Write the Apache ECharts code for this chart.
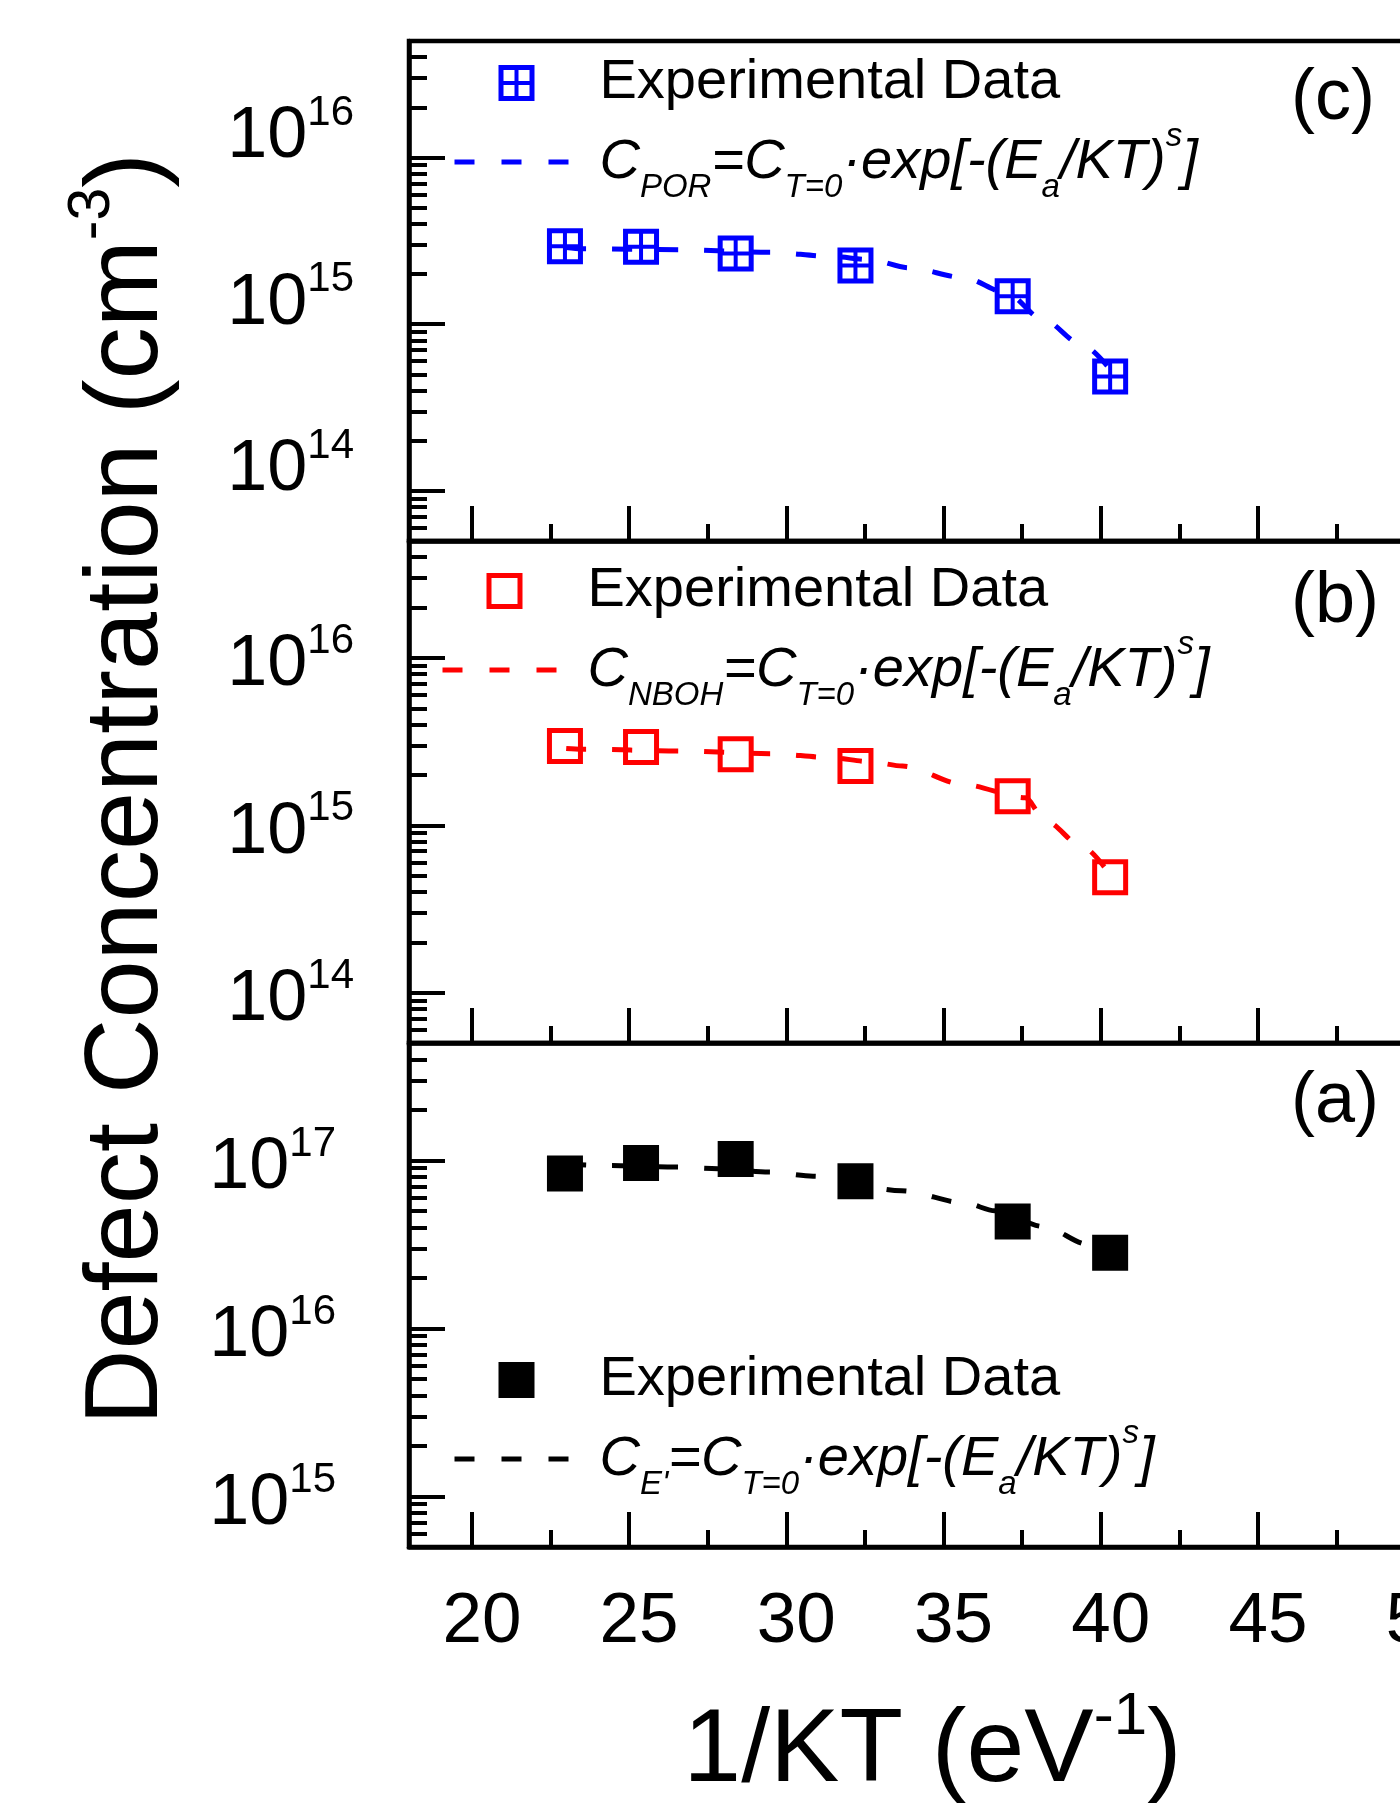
<!DOCTYPE html>
<html>
<head>
<meta charset="utf-8">
<script src="https://cdn.jsdelivr.net/npm/echarts@6/dist/echarts.min.js"></script>
<style>
  html, body { margin: 0; padding: 0; background: #fff; overflow: hidden; }
  #chart { width: 1600px; height: 1860px; }
</style>
</head>
<body>
<div id="chart"></div>
<script>
// 1/KT positions of the measured points (same in all panels)
const xExp = [22.96, 25.38, 28.39, 32.2, 37.2, 40.3];

// (c) POR, (b) NBOH, (a) E' measured concentrations, cm^-3
const porExp = [2.93e15, 2.91e15, 2.65e15, 2.25e15, 1.47e15, 4.86e14];
const nbohExp = [2.98e15, 2.94e15, 2.66e15, 2.26e15, 1.49e15, 4.9e14];
const eExp = [8.36e16, 9.65e16, 1.02e17, 7.52e16, 4.33e16, 2.82e16];

// fitted curves
const porFitX = [23.0, 23.5, 26.6, 29.5, 31.4, 32.65, 33.9, 35.65, 37.0, 38.15, 39.4, 40.25];
const porFitY = [2.88e15, 2.83e15, 2.8e15, 2.7e15, 2.55e15, 2.44e15, 2.18e15, 1.9e15, 1.54e15, 1.07e15, 7.56e14, 5.5e14];
const nbohFitX = [23.0, 23.5, 26.6, 29.5, 31.4, 32.65, 33.7, 35.65, 37.6, 38.25, 39.4, 40.3];
const nbohFitY = [2.88e15, 2.85e15, 2.78e15, 2.68e15, 2.54e15, 2.4e15, 2.26e15, 1.75e15, 1.46e15, 1.06e15, 7.5e14, 5.06e14];
const eFitX = [23.0, 24.35, 26.46, 27.82, 29.45, 30.85, 33.67, 35.69, 36.64, 38.19, 39.6, 40.2];
const eFitY = [9.5e16, 9.33e16, 9.13e16, 8.92e16, 8.52e16, 8.06e16, 6.6e16, 5.57e16, 5.01e16, 4.04e16, 3.16e16, 2.92e16];

// tick values
const xMajor = [20, 25, 30, 35, 40, 45, 50];
const xMinor = [22.5, 27.5, 32.5, 37.5, 42.5, 47.5];
const yDecadesLow = [1e14, 1e15, 1e16];
const yDecadesHigh = [1e15, 1e16, 1e17];

const FONT = '"Liberation Sans", Arial, Helvetica, sans-serif';

function minorTicks(lo, hi) {
  // 2..9 x 10^n inside [lo, hi]
  const out = [];
  for (let e = Math.floor(Math.log10(lo)); e <= Math.ceil(Math.log10(hi)); e++) {
    for (let m = 2; m <= 9; m++) {
      const v = m * Math.pow(10, e);
      if (v >= lo && v <= hi) out.push(v);
    }
  }
  return out;
}

function pairs(xs, ys) {
  return xs.map((x, i) => [x, ys[i]]);
}

// marker shapes: hollow square with cross, hollow square, filled square
const symCross = 'path://M0 0H36V36H0Z M5 5V16H16V5Z M20 5V16H31V5Z M5 20V31H16V20Z M20 20V31H31V20Z';
const symOpen = 'path://M0 0H36V36H0Z M5 5V31H31V5Z';
const symFull = 'path://M0 0H36V36H0Z';

const panels = [
  { key: 'c', top: 41, height: 500, min: 5e13, max: 5e16, decades: yDecadesLow,
    color: '#0000ff', sym: symCross, exp: porExp, fitX: porFitX, fitY: porFitY,
    sub: 'POR', labelMargin: 55, labelPad: [0, 0, 41, 0], legendLeft: 452, legendTop: 55 },
  { key: 'b', top: 541, height: 502, min: 5e13, max: 5e16, decades: yDecadesLow,
    color: '#ff0000', sym: symOpen, exp: nbohExp, fitX: nbohFitX, fitY: nbohFitY,
    sub: 'NBOH', labelMargin: 55, labelPad: [15, 0, 0, 0], legendLeft: 440, legendTop: 563 },
  { key: 'a', top: 1043, height: 504, min: 5e14, max: 5e17, decades: yDecadesHigh,
    color: '#000000', sym: symFull, exp: eExp, fitX: eFitX, fitY: eFitY,
    sub: "E'", labelMargin: 73, labelPad: [15, 0, 0, 0], legendLeft: 452, legendTop: 1352 }
];

const X_MIN = 18, X_MAX = 51.3;
const axisLineStyle = { color: '#000', width: 4.5 };
const tickLineStyle = { color: '#000', width: 4 };

const grids = [], xAxes = [], yAxes = [], series = [], legends = [];
const legendText = {};

panels.forEach((p, k) => {
  const last = k === panels.length - 1;
  grids.push({
    left: 409, top: p.top, width: 1047, height: p.height,
    show: true, borderColor: '#000', borderWidth: 4.5,
    backgroundColor: 'transparent', outerBoundsMode: 'none', containLabel: false
  });

  xAxes.push({
    gridIndex: k, type: 'value', min: X_MIN, max: X_MAX, position: 'bottom',
    axisLine: { show: true, onZero: false, lineStyle: axisLineStyle },
    axisTick: { show: true, inside: true, length: 35, customValues: xMajor, lineStyle: tickLineStyle },
    axisLabel: {
      show: last, customValues: xMajor, color: '#000', fontFamily: FONT, fontSize: 71,
      margin: 40, padding: [0, 0, 0, 20]
    },
    splitLine: { show: false },
    name: last ? '1/KT (eV{sp|-1})' : '',
    nameLocation: 'middle',
    nameGap: 140,
    nameTextStyle: {
      color: '#000', fontFamily: FONT, fontSize: 104, lineHeight: 130,
      rich: { sp: { color: '#000', fontFamily: FONT, fontSize: 60, lineHeight: 44, verticalAlign: 'top' } }
    }
  });
  xAxes.push({
    gridIndex: k, type: 'value', min: X_MIN, max: X_MAX, position: 'bottom',
    axisLine: { show: false, onZero: false },
    axisTick: { show: true, inside: true, length: 17, customValues: xMinor, lineStyle: tickLineStyle },
    axisLabel: { show: false },
    splitLine: { show: false }
  });

  yAxes.push({
    gridIndex: k, type: 'log', logBase: 10, min: p.min, max: p.max, position: 'left',
    axisLine: { show: true, onZero: false, lineStyle: axisLineStyle },
    axisTick: { show: true, inside: true, length: 36, customValues: p.decades, lineStyle: tickLineStyle },
    axisLabel: {
      customValues: p.decades, margin: p.labelMargin, padding: p.labelPad,
      formatter: v => '{m|10}{s|' + Math.round(Math.log10(v)) + '}',
      rich: {
        m: { color: '#000', fontFamily: FONT, fontSize: 72, lineHeight: 90 },
        s: { color: '#000', fontFamily: FONT, fontSize: 42, lineHeight: 36, verticalAlign: 'top' }
      }
    },
    splitLine: { show: false },
    minorTick: { show: false },
    name: k === 1 ? 'Defect Concentration (cm{sp|-3})' : '',
    nameLocation: 'middle',
    nameRotate: 90,
    nameGap: 216,
    nameTextStyle: {
      color: '#000', fontFamily: FONT, fontSize: 104.5, lineHeight: 130,
      padding: [0, 0, 0, 6],
      rich: { sp: { color: '#000', fontFamily: FONT, fontSize: 59, lineHeight: 40, verticalAlign: 'top' } }
    }
  });
  yAxes.push({
    gridIndex: k, type: 'log', logBase: 10, min: p.min, max: p.max, position: 'left',
    axisLine: { show: false, onZero: false },
    axisTick: { show: true, inside: true, length: 18, customValues: minorTicks(p.min, p.max), lineStyle: tickLineStyle },
    axisLabel: { show: false },
    splitLine: { show: false }
  });

  const expName = 'exp_' + p.key, fitName = 'fit_' + p.key;
  legendText[expName] = 'Experimental Data';
  legendText[fitName] = '{i|C}{sb|' + p.sub + '}{i|=C}{sb|T=0}{i|·exp[-(E}{sb|a}{i|/KT)}{sp|s}{i|]}';

  series.push({
    name: expName, type: 'scatter', xAxisIndex: 2 * k, yAxisIndex: 2 * k,
    data: pairs(xExp, p.exp), symbol: p.sym, symbolSize: 36, symbolKeepAspect: true,
    itemStyle: { color: p.color, opacity: 1 }, z: 2
  });
  series.push({
    name: fitName, type: 'line', xAxisIndex: 2 * k, yAxisIndex: 2 * k,
    data: pairs(p.fitX, p.fitY), showSymbol: false, symbol: 'none',
    smooth: 0.3, smoothMonotone: 'x',
    itemStyle: { color: p.color },
    lineStyle: { color: p.color, width: 5, type: [20, 26] }, z: 3
  });

  legends.push({
    orient: 'vertical', left: p.legendLeft, top: p.legendTop, padding: 0,
    itemWidth: 124, itemHeight: 36, itemGap: 9, selectedMode: false,
    data: [
      { name: expName },
      // line only in the key, no marker
      { name: fitName, itemStyle: { color: 'transparent', opacity: 0, borderWidth: 0 } }
    ],
    symbolKeepAspect: true,
    formatter: name => legendText[name],
    lineStyle: { color: p.color, width: 5, type: [20, 27] },
    textStyle: {
      color: '#000', fontFamily: FONT, fontSize: 56, lineHeight: 56, padding: [0, 0, 0, 16],
      rich: {
        i: { color: '#000', fontFamily: FONT, fontSize: 56, fontStyle: 'italic', lineHeight: 84 },
        sb: { color: '#000', fontFamily: FONT, fontSize: 33, fontStyle: 'italic', lineHeight: 32, verticalAlign: 'bottom' },
        sp: { color: '#000', fontFamily: FONT, fontSize: 33, fontStyle: 'italic', lineHeight: 44, verticalAlign: 'top' }
      }
    }
  });
});

// panel tags (c), (b), (a)
const tags = [['(c)', 99], ['(b)', 602], ['(a)', 1102]];
const graphics = tags.map(t => ({
  type: 'text', x: 1291, y: t[1], z: 10,
  style: { text: t[0], fill: '#000', font: '72px ' + FONT, verticalAlign: 'middle', align: 'left' }
}));

const chart = echarts.init(document.getElementById('chart'), null, { renderer: 'canvas' });
chart.setOption({
  animation: false,
  backgroundColor: '#fff',
  textStyle: { fontFamily: FONT },
  grid: grids,
  xAxis: xAxes,
  yAxis: yAxes,
  legend: legends,
  series: series,
  graphic: graphics
});
</script>
</body>
</html>
